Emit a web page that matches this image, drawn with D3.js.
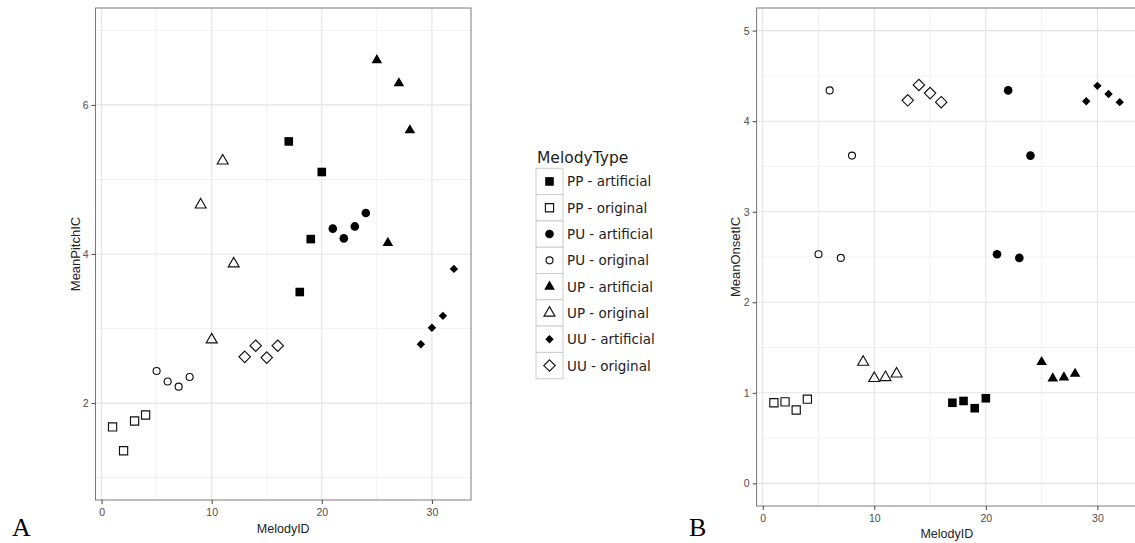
<!DOCTYPE html>
<html>
<head>
<meta charset="utf-8">
<script src="https://cdn.jsdelivr.net/npm/d3@7"></script>
<style>
  body { margin: 0; background: #fff; }
  svg { display: block; }
</style>
</head>
<body>
<svg id="chart" width="1135" height="543"></svg>
<script>
// ---- data -------------------------------------------------------------
const melodyIds = [1, 2, 3, 4, 5, 6, 7, 8, 9, 10, 11, 12, 13, 14, 15, 16,
                   17, 18, 19, 20, 21, 22, 23, 24, 25, 26, 27, 28, 29, 30, 31, 32];

const melodyTypes = [
  "PP - original", "PP - original", "PP - original", "PP - original",
  "PU - original", "PU - original", "PU - original", "PU - original",
  "UP - original", "UP - original", "UP - original", "UP - original",
  "UU - original", "UU - original", "UU - original", "UU - original",
  "PP - artificial", "PP - artificial", "PP - artificial", "PP - artificial",
  "PU - artificial", "PU - artificial", "PU - artificial", "PU - artificial",
  "UP - artificial", "UP - artificial", "UP - artificial", "UP - artificial",
  "UU - artificial", "UU - artificial", "UU - artificial", "UU - artificial"
];

const meanPitchIC = [1.68, 1.36, 1.76, 1.84, 2.43, 2.29, 2.22, 2.35,
                     4.66, 2.85, 5.25, 3.87, 2.62, 2.77, 2.61, 2.77,
                     5.51, 3.49, 4.20, 5.10, 4.34, 4.21, 4.37, 4.55,
                     6.60, 4.15, 6.29, 5.66, 2.79, 3.01, 3.17, 3.80];

const meanOnsetIC = [0.89, 0.90, 0.81, 0.93, 2.53, 4.34, 2.49, 3.62,
                     1.34, 1.16, 1.17, 1.21, 4.23, 4.40, 4.31, 4.21,
                     0.89, 0.91, 0.83, 0.94, 2.53, 4.34, 2.49, 3.62,
                     1.34, 1.16, 1.17, 1.21, 4.22, 4.39, 4.30, 4.21];

const legendTypes = ["PP - artificial", "PP - original", "PU - artificial", "PU - original",
                     "UP - artificial", "UP - original", "UU - artificial", "UU - original"];

const idTicks = [0, 10, 20, 30];
const idMinor = [5, 15, 25];
const pitchTicks = [2, 4, 6];
const pitchMinor = [1, 3, 5, 7];
const onsetTicks = [0, 1, 2, 3, 4, 5];
const onsetMinor = [0.5, 1.5, 2.5, 3.5, 4.5];

// ---- glyphs (ggplot-style shapes 15, 0, 16, 1, 17, 2, 18, 5) -------------
const shapeOf = {
  "PP - artificial": { kind: "square",   filled: true,  size: 8.6 },
  "PP - original":   { kind: "square",   filled: false, size: 8.2 },
  "PU - artificial": { kind: "circle",   filled: true,  size: 8.6 },
  "PU - original":   { kind: "circle",   filled: false, size: 7.0 },
  "UP - artificial": { kind: "triangle", filled: true,  size: 10.6 },
  "UP - original":   { kind: "triangle", filled: false, size: 11.0 },
  "UU - artificial": { kind: "diamond",  filled: true,  size: 8.4 },
  "UU - original":   { kind: "diamond",  filled: false, size: 11.4 }
};

function glyphPath(kind, s) {
  if (kind === "square") {
    const h = s / 2;
    return `M${-h},${-h}H${h}V${h}H${-h}Z`;
  }
  if (kind === "circle") {
    const r = s / 2;
    return `M${r},0A${r},${r} 0 1,1 ${-r},0A${r},${r} 0 1,1 ${r},0Z`;
  }
  if (kind === "triangle") {
    const hgt = s * Math.sqrt(3) / 2;
    return `M0,${-2 * hgt / 3}L${s / 2},${hgt / 3}L${-s / 2},${hgt / 3}Z`;
  }
  const r = s / 2;
  return `M0,${-r}L${r},0L0,${r}L${-r},0Z`;
}

function drawGlyph(sel, type) {
  const sh = shapeOf[type];
  sel.attr("d", glyphPath(sh.kind, sh.size))
     .attr("fill", sh.filled ? "#000" : "none")
     .attr("stroke", sh.filled ? "none" : "#111")
     .attr("stroke-width", sh.filled ? 0 : 1.15);
}

const svg = d3.select("#chart");
const points = melodyIds.map((id, i) => ({ id, type: melodyTypes[i], pitch: meanPitchIC[i], onset: meanOnsetIC[i] }));

// ---- one scatter panel ------------------------------------------------
function drawPanel(cfg) {
  const g = svg.append("g");
  const x = d3.scaleLinear().domain([-0.55, 33.55]).range([cfg.left, cfg.right]);
  const y = d3.scaleLinear().domain(cfg.yDomain).range([cfg.bottom, cfg.top]);

  g.append("rect")
    .attr("x", cfg.left).attr("y", cfg.top)
    .attr("width", cfg.right - cfg.left).attr("height", cfg.bottom - cfg.top)
    .attr("fill", "#fff");

  // minor grid
  g.selectAll(".vminor").data(idMinor).join("line")
    .attr("x1", d => x(d)).attr("x2", d => x(d))
    .attr("y1", cfg.top).attr("y2", cfg.bottom)
    .attr("stroke", "#f2f2f2").attr("stroke-width", 1);
  g.selectAll(".hminor").data(cfg.yMinor).join("line")
    .attr("y1", d => y(d)).attr("y2", d => y(d))
    .attr("x1", cfg.left).attr("x2", cfg.right)
    .attr("stroke", "#f2f2f2").attr("stroke-width", 1);
  // major grid
  g.selectAll(".vmajor").data(idTicks).join("line")
    .attr("x1", d => x(d)).attr("x2", d => x(d))
    .attr("y1", cfg.top).attr("y2", cfg.bottom)
    .attr("stroke", "#e3e3e3").attr("stroke-width", 1.1);
  g.selectAll(".hmajor").data(cfg.yTicks).join("line")
    .attr("y1", d => y(d)).attr("y2", d => y(d))
    .attr("x1", cfg.left).attr("x2", cfg.right)
    .attr("stroke", "#e3e3e3").attr("stroke-width", 1.1);

  // points
  g.selectAll(".pt").data(points).join("path")
    .attr("transform", d => `translate(${x(d.id)},${y(d[cfg.field])})`)
    .each(function (d) { drawGlyph(d3.select(this), d.type); });

  // border
  g.append("rect")
    .attr("x", cfg.left).attr("y", cfg.top)
    .attr("width", cfg.right - cfg.left).attr("height", cfg.bottom - cfg.top)
    .attr("fill", "none").attr("stroke", "#7a7a7a").attr("stroke-width", 1);

  // axes
  const fmt = d3.format("d");
  const xAxis = g.append("g").attr("transform", `translate(0,${cfg.bottom})`)
    .call(d3.axisBottom(x).tickValues(idTicks).tickFormat(fmt).tickSize(4).tickPadding(4.5));
  const yAxis = g.append("g").attr("transform", `translate(${cfg.left},0)`)
    .call(d3.axisLeft(y).tickValues(cfg.yTicks).tickFormat(fmt).tickSize(4).tickPadding(3));
  [xAxis, yAxis].forEach(a => {
    a.select(".domain").remove();
    a.selectAll(".tick line").attr("stroke", "#444");
    a.selectAll(".tick text")
      .attr("fill", "#4d4d4d")
      .style("font-family", "'Liberation Sans', Arial, sans-serif")
      .style("font-size", "10.5px");
  });

  // axis titles
  g.append("text")
    .attr("x", (cfg.left + cfg.right) / 2).attr("y", cfg.xTitleY)
    .attr("text-anchor", "middle")
    .style("font-family", "'Liberation Sans', Arial, sans-serif")
    .style("font-size", "12.5px").attr("fill", "#222")
    .text("MelodyID");
  g.append("text")
    .attr("transform", `translate(${cfg.yTitleX},${(cfg.top + cfg.bottom) / 2}) rotate(-90)`)
    .attr("text-anchor", "middle")
    .style("font-family", "'Liberation Sans', Arial, sans-serif")
    .style("font-size", "13px").attr("fill", "#222")
    .text(cfg.yTitle);

  // panel letter
  g.append("text")
    .attr("x", cfg.letterX).attr("y", 536)
    .style("font-family", "'Liberation Serif', 'Times New Roman', serif")
    .style("font-size", "26px").attr("fill", "#000")
    .text(cfg.letter);
}

drawPanel({
  left: 95.5, right: 471, top: 8, bottom: 500,
  yDomain: [0.7, 7.3], yTicks: pitchTicks, yMinor: pitchMinor,
  field: "pitch", yTitle: "MeanPitchIC", yTitleX: 80, xTitleY: 532.5,
  letter: "A", letterX: 12
});

drawPanel({
  left: 756.6, right: 1137, top: 8, bottom: 506,
  yDomain: [-0.25, 5.25], yTicks: onsetTicks, yMinor: onsetMinor,
  field: "onset", yTitle: "MeanOnsetIC", yTitleX: 740, xTitleY: 538,
  letter: "B", letterX: 689
});

// ---- legend -------------------------------------------------------------
const legend = svg.append("g");
const keyX = 536, keyW = 27, keyTop = 168.3, keyH = 26.3;

legend.append("text")
  .attr("x", 537).attr("y", 163)
  .style("font-family", "'DejaVu Sans', sans-serif")
  .style("font-size", "15.5px").attr("fill", "#222")
  .text("MelodyType");

const rows = legend.selectAll(".row").data(legendTypes).join("g")
  .attr("transform", (d, i) => `translate(0,${keyTop + i * keyH})`);

rows.append("rect")
  .attr("x", keyX).attr("y", 0).attr("width", keyW).attr("height", keyH)
  .attr("fill", "#fff").attr("stroke", "#cccccc").attr("stroke-width", 1);

rows.append("path")
  .attr("transform", `translate(${keyX + keyW / 2},${keyH / 2})`)
  .each(function (d) { drawGlyph(d3.select(this), d); });

rows.append("text")
  .attr("x", 567).attr("y", keyH / 2 + 5)
  .style("font-family", "'DejaVu Sans', sans-serif")
  .style("font-size", "13.5px").attr("fill", "#222")
  .text(d => d);
</script>
</body>
</html>
